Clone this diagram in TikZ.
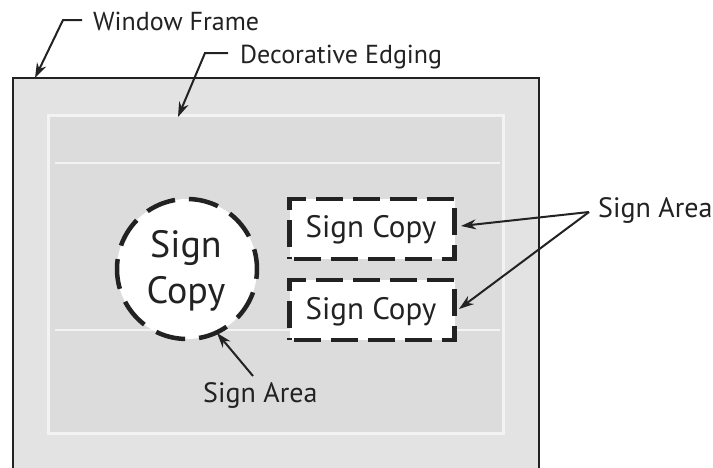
\documentclass[tikz,border=0pt]{standalone}
\usepackage{fontspec}
\setmainfont{PT Sans}
\usetikzlibrary{arrows.meta,shapes.geometric}
\definecolor{outerg}{HTML}{E3E3E3}
\definecolor{innerg}{HTML}{DCDCDC}
\definecolor{bandw}{HTML}{F3F3F3}
\definecolor{ink}{HTML}{222222}
\tikzset{
  lbl/.style={font=\fontsize{26}{28}\selectfont, text=ink, inner sep=0pt},
  lblb/.style={font=\fontsize{28}{30}\selectfont, text=ink, inner sep=0pt},
  leader/.style={draw=ink, line width=2pt, -{Stealth[length=15pt,width=10pt]}},
  signbox/.style={draw=ink, fill=white, line width=4.5pt, dash pattern=on 27pt off 10pt, dash phase=-4pt,
    minimum width=165pt, minimum height=60pt, inner sep=0pt},
  signcirc/.style={circle, draw=ink, fill=white, line width=4.5pt, dash pattern=on 30pt off 14pt, dash phase=10pt,
    minimum size=140pt, inner sep=0pt},
  bigtxt/.style={font=\fontsize{38}{46}\selectfont, text=ink, inner sep=0pt, anchor=base},
  boxtxt/.style={font=\fontsize{31}{33}\selectfont, text=ink, inner sep=0pt, anchor=base}
}
\begin{document}
\begin{tikzpicture}[x=1pt,y=-1pt]
\useasboundingbox (0,0) rectangle (713,467);
\fill[white] (0,0) rectangle (713,467);
% window frame
\fill[outerg] (13,78) rectangle (539,470);
\fill[innerg] (48,115) rectangle (503,433);
\draw[bandw, line width=3pt] (48,115) rectangle (503,433);
\draw[bandw, line width=2.5pt] (55,163) -- (500,163);
\draw[bandw, line width=2.5pt] (55,330) -- (500,330);
\draw[ink, line width=1.8pt] (13,470) -- (13,78) -- (539,78) -- (539,470);
% sign areas
\node[signcirc] (circ) at (187,269) {};
\node[bigtxt] (cs) at (186,257) {Sign};
\node[bigtxt] (cc) at (186,303) {Copy};
\node[signbox] (box1) at (372,229) {};
\node[signbox] (box2) at (372,310) {};
\node[boxtxt] (t1) at (371,237) {Sign Copy};
\node[boxtxt] (t2) at (371,319) {Sign Copy};
% labels
\node[lbl, anchor=base west] (wf) at (93,30) {Window Frame};
\node[lbl, anchor=base west] (de) at (240,63) {Decorative Edging};
\node[lblb, anchor=base west] (sar) at (598,217) {Sign Area};
\node[lblb, anchor=base west] (sab) at (203,402) {Sign Area};
% leaders
\coordinate (wfa) at (82,20);
\coordinate (wfb) at (63,20);
\coordinate (wft) at (35,78);
\draw[leader] (wfa) -- (wfb) -- (wft);
\coordinate (dea) at (228,53);
\coordinate (deb) at (205,53);
\coordinate (det) at (178,117);
\draw[leader] (dea) -- (deb) -- (det);
\coordinate (sarp) at (589,212);
\coordinate (b1t) at (461,226);
\coordinate (b2t) at (459,309);
\draw[leader] (sarp) -- (b1t);
\draw[leader] (sarp) -- (b2t);
\coordinate (sabp) at (253,376);
\coordinate (ct) at (217,333);
\draw[leader] (sabp) -- (ct);
\end{tikzpicture}
\end{document}
